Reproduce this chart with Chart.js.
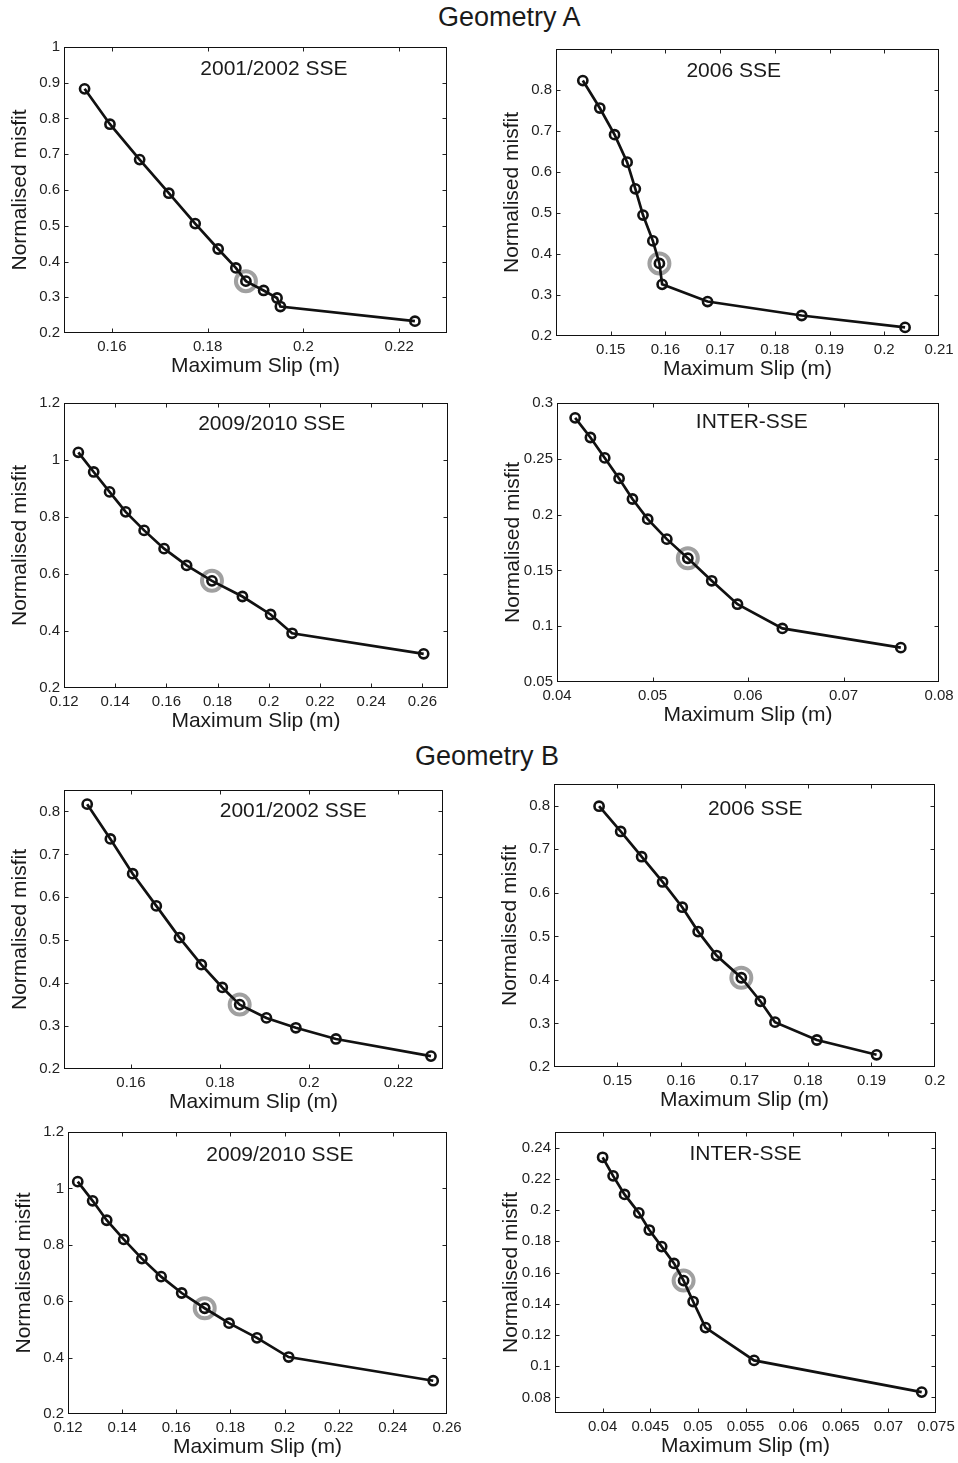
<!DOCTYPE html>
<html>
<head>
<meta charset="utf-8">
<script src="https://cdn.jsdelivr.net/npm/chart.js@4.4.1/dist/chart.umd.min.js"></script>
<style>
  html, body { margin:0; padding:0; background:#fff; }
  body { width:958px; height:1463px; position:relative; overflow:hidden;
         font-family:"Liberation Sans", Arial, Helvetica, sans-serif; }
  .geo { position:absolute; font-size:27px; line-height:32px; color:#1a1a1a; white-space:nowrap; }
  .panel { position:absolute; }
</style>
</head>
<body>
<div class="geo" style="left:438px;top:1px;">Geometry A</div>
<div class="geo" style="left:415px;top:740px;">Geometry B</div>

<script>
// ---- data (maximum slip in m, normalised misfit) ----
const panelLabels = ['2001/2002 SSE', '2006 SSE', '2009/2010 SSE', 'INTER-SSE'];

// Geometry A
const slipA2001   = [0.1543, 0.1596, 0.1658, 0.1719, 0.1774, 0.1822, 0.1859, 0.1880, 0.1917, 0.1945, 0.1952, 0.2233];
const misfitA2001 = [0.883, 0.784, 0.685, 0.591, 0.506, 0.435, 0.382, 0.345, 0.319, 0.298, 0.274, 0.233];
const slipA2006   = [0.1449, 0.1480, 0.1507, 0.1530, 0.1545, 0.1559, 0.1577, 0.1589, 0.1594, 0.1677, 0.1849, 0.2038];
const misfitA2006 = [0.823, 0.756, 0.691, 0.624, 0.559, 0.495, 0.432, 0.377, 0.326, 0.284, 0.250, 0.221];
const slipA2009   = [0.1256, 0.1316, 0.1378, 0.1441, 0.1513, 0.1591, 0.1679, 0.1778, 0.1897, 0.2007, 0.2091, 0.2605];
const misfitA2009 = [1.027, 0.958, 0.888, 0.818, 0.753, 0.689, 0.630, 0.576, 0.521, 0.458, 0.392, 0.320];
const slipAInter   = [0.0419, 0.0435, 0.0450, 0.0465, 0.0479, 0.0495, 0.0515, 0.0537, 0.0562, 0.0589, 0.0636, 0.0760];
const misfitAInter = [0.2867, 0.2691, 0.2508, 0.2324, 0.2140, 0.1959, 0.1780, 0.1609, 0.1407, 0.1197, 0.0980, 0.0808];

// Geometry B
const slipB2001   = [0.1502, 0.1554, 0.1604, 0.1657, 0.1709, 0.1758, 0.1805, 0.1844, 0.1904, 0.1970, 0.2060, 0.2273];
const misfitB2001 = [0.817, 0.736, 0.655, 0.580, 0.506, 0.443, 0.390, 0.350, 0.319, 0.296, 0.270, 0.230];
const slipB2006   = [0.1471, 0.1505, 0.1538, 0.1571, 0.1602, 0.1627, 0.1656, 0.1695, 0.1725, 0.1748, 0.1814, 0.1908];
const misfitB2006 = [0.799, 0.741, 0.683, 0.625, 0.567, 0.511, 0.456, 0.405, 0.351, 0.303, 0.262, 0.228];
const slipB2009   = [0.1236, 0.1291, 0.1343, 0.1406, 0.1473, 0.1544, 0.1620, 0.1705, 0.1795, 0.1898, 0.2015, 0.2549];
const misfitB2009 = [1.024, 0.956, 0.887, 0.819, 0.751, 0.687, 0.629, 0.575, 0.522, 0.470, 0.402, 0.318];
const slipBInter   = [0.0400, 0.0411, 0.0423, 0.0438, 0.0449, 0.0462, 0.0475, 0.0485, 0.0495, 0.0508, 0.0559, 0.0735];
const misfitBInter = [0.2338, 0.2219, 0.2100, 0.1982, 0.1872, 0.1766, 0.1658, 0.1548, 0.1414, 0.1247, 0.1037, 0.0834];

// preferred (circled) model in each curve
const bestIndex = 7;

// tick labels
const xTicks2001 = [0.16, 0.18, 0.2, 0.22];
const xTicksA2006 = [0.15, 0.16, 0.17, 0.18, 0.19, 0.2, 0.21];
const xTicksB2006 = [0.15, 0.16, 0.17, 0.18, 0.19, 0.2];
const xTicks2009 = [0.12, 0.14, 0.16, 0.18, 0.2, 0.22, 0.24, 0.26];
const xTicksAInter = [0.04, 0.05, 0.06, 0.07, 0.08];
const xTicksBInter = [0.04, 0.045, 0.05, 0.055, 0.06, 0.065, 0.07, 0.075];
const yTicksA2001 = [0.2, 0.3, 0.4, 0.5, 0.6, 0.7, 0.8, 0.9, 1];
const yTicks2006 = [0.2, 0.3, 0.4, 0.5, 0.6, 0.7, 0.8];
const yTicks2009 = [0.2, 0.4, 0.6, 0.8, 1, 1.2];
const yTicksAInter = [0.05, 0.1, 0.15, 0.2, 0.25, 0.3];
const yTicksBInter = [0.08, 0.1, 0.12, 0.14, 0.16, 0.18, 0.2, 0.22, 0.24];

const FONT = '"Liberation Sans", Arial, Helvetica, sans-serif';

// panel placement: plot-area box on the page + axis limits
const panels = [
  { label: panelLabels[0], slip: slipA2001, misfit: misfitA2001, xt: xTicks2001, yt: yTicksA2001,
    x: [0.15, 0.23], y: [0.2, 1], box: [64, 45, 447, 333], lx: 0.548, ly: 22 },
  { label: panelLabels[1], slip: slipA2006, misfit: misfitA2006, xt: xTicksA2006, yt: yTicks2006,
    x: [0.14, 0.21], y: [0.2, 0.9], box: [556, 47, 939, 336], lx: 0.464, ly: 22 },
  { label: panelLabels[2], slip: slipA2009, misfit: misfitA2009, xt: xTicks2009, yt: yTicks2009,
    x: [0.12, 0.27], y: [0.2, 1.2], box: [64, 401, 448, 688], lx: 0.541, ly: 21 },
  { label: panelLabels[3], slip: slipAInter, misfit: misfitAInter, xt: xTicksAInter, yt: yTicksAInter,
    x: [0.04, 0.08], y: [0.05, 0.3], box: [557, 401, 939, 682], lx: 0.51, ly: 19 },
  { label: panelLabels[0], slip: slipB2001, misfit: misfitB2001, xt: xTicks2001, yt: yTicks2006,
    x: [0.145, 0.23], y: [0.2, 0.85], box: [64, 788, 443, 1069], lx: 0.605, ly: 21 },
  { label: panelLabels[1], slip: slipB2006, misfit: misfitB2006, xt: xTicksB2006, yt: yTicks2006,
    x: [0.14, 0.2], y: [0.2, 0.85], box: [554, 782, 935, 1067], lx: 0.528, ly: 25 },
  { label: panelLabels[2], slip: slipB2009, misfit: misfitB2009, xt: xTicks2009, yt: yTicks2009,
    x: [0.12, 0.26], y: [0.2, 1.2], box: [68, 1130, 447, 1414], lx: 0.559, ly: 23 },
  { label: panelLabels[3], slip: slipBInter, misfit: misfitBInter, xt: xTicksBInter, yt: yTicksBInter,
    x: [0.035, 0.075], y: [0.07, 0.25], box: [555, 1130, 936, 1413], lx: 0.50, ly: 22 },
];

const PAD_L = 72, PAD_T = 12, PAD_R = 26, PAD_B = 55;

// frame, inward MATLAB-style ticks and the in-plot label
const boxPlugin = {
  id: 'box',
  afterDraw(chart, args, opts) {
    const { ctx, chartArea: a, scales } = chart;
    const L = Math.round(a.left) + 0.5, R = Math.round(a.right) - 0.5;
    const T = Math.round(a.top) + 0.5, B = Math.round(a.bottom) - 0.5;
    ctx.save();
    ctx.strokeStyle = '#222';
    ctx.lineWidth = 1;
    ctx.beginPath();
    scales.x.ticks.forEach(t => {
      const px = Math.round(scales.x.getPixelForValue(t.value)) + 0.5;
      if (px < L + 2 || px > R - 2) return;
      ctx.moveTo(px, B); ctx.lineTo(px, B - 4);
      ctx.moveTo(px, T); ctx.lineTo(px, T + 4);
    });
    scales.y.ticks.forEach(t => {
      const py = Math.round(scales.y.getPixelForValue(t.value)) + 0.5;
      if (py < T + 2 || py > B - 2) return;
      ctx.moveTo(L, py); ctx.lineTo(L + 4, py);
      ctx.moveTo(R, py); ctx.lineTo(R - 4, py);
    });
    ctx.stroke();
    ctx.strokeStyle = '#111';
    ctx.strokeRect(L, T, R - L, B - T);

    ctx.fillStyle = '#1a1a1a';
    ctx.font = '21px ' + FONT;
    ctx.textAlign = 'center';
    ctx.textBaseline = 'middle';
    ctx.fillText(opts.text, a.left + opts.fx * (a.right - a.left), a.top + opts.dy);
    ctx.restore();
  }
};

const fmt = v => String(+Number(v).toFixed(4));

function makePanel(p) {
  const [l, t, r, b] = p.box;
  const w = (r - l) + PAD_L + PAD_R;
  const h = (b - t) + PAD_T + PAD_B;
  const div = document.createElement('div');
  div.className = 'panel';
  div.style.cssText = `left:${l - PAD_L}px;top:${t - PAD_T}px;width:${w}px;height:${h}px;`;
  const cv = document.createElement('canvas');
  cv.width = w; cv.height = h;
  cv.style.cssText = `width:${w}px;height:${h}px;display:block;`;
  div.appendChild(cv);
  document.body.appendChild(div);

  const pts = p.slip.map((s, i) => ({ x: s, y: p.misfit[i] }));

  new Chart(cv.getContext('2d'), {
    type: 'scatter',
    data: {
      datasets: [
        {
          data: pts,
          showLine: true,
          borderColor: '#111',
          borderWidth: 2.7,
          pointStyle: 'circle',
          pointRadius: 4.6,
          pointBorderWidth: 2.6,
          pointBorderColor: '#111',
          pointBackgroundColor: 'rgba(0,0,0,0)',
          order: 1
        },
        {
          data: [pts[bestIndex]],
          showLine: false,
          pointStyle: 'circle',
          pointRadius: 10,
          pointBorderWidth: 4,
          pointBorderColor: '#a0a0a0',
          pointBackgroundColor: 'rgba(0,0,0,0)',
          order: 2
        }
      ]
    },
    options: {
      responsive: false,
      animation: false,
      events: [],
      layout: { padding: { left: 0, top: PAD_T, right: PAD_R, bottom: 0 } },
      plugins: {
        legend: { display: false },
        tooltip: { enabled: false },
        box: { text: p.label, fx: p.lx, dy: p.ly }
      },
      scales: {
        x: {
          type: 'linear',
          min: p.x[0], max: p.x[1],
          grid: { display: false, drawTicks: false },
          border: { display: false },
          afterBuildTicks: s => { s.ticks = p.xt.map(v => ({ value: v })); },
          afterFit: s => { s.height = PAD_B; },
          ticks: {
            color: '#222', padding: 5, maxRotation: 0, autoSkip: false,
            font: { family: FONT, size: 15 },
            callback: v => fmt(v)
          },
          title: {
            display: true, text: 'Maximum Slip (m)', color: '#1a1a1a',
            font: { family: FONT, size: 21 }, padding: { top: 0, bottom: 9 }
          }
        },
        y: {
          type: 'linear',
          min: p.y[0], max: p.y[1],
          grid: { display: false, drawTicks: false },
          border: { display: false },
          afterBuildTicks: s => { s.ticks = p.yt.map(v => ({ value: v })); },
          afterFit: s => { s.width = PAD_L; },
          ticks: {
            color: '#222', padding: 4, autoSkip: false,
            font: { family: FONT, size: 15 },
            callback: v => fmt(v)
          },
          title: {
            display: true, text: 'Normalised misfit', color: '#1a1a1a',
            font: { family: FONT, size: 21 }, padding: { top: 16, bottom: 0 }
          }
        }
      }
    },
    plugins: [boxPlugin]
  });
}

panels.forEach(makePanel);
</script>
</body>
</html>
